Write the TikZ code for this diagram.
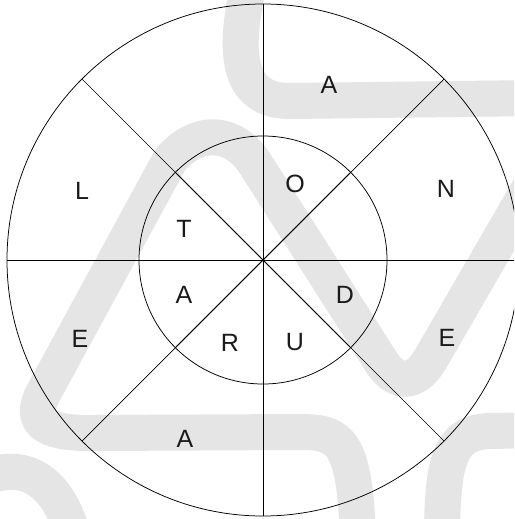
\documentclass[tikz,border=0pt]{standalone}
\usepackage{fontspec}
\setmainfont{Liberation Sans}
\usetikzlibrary{calc}
\definecolor{wm}{RGB}{229,229,229}
\definecolor{ink}{RGB}{26,26,26}
\begin{document}
\begin{tikzpicture}[x=1pt,y=-1pt,
  ribbon/.style={draw=wm,line width=36pt,line cap=round,line join=round},
  ring/.style={draw=black,line width=0.75pt},
  spoke/.style={draw=black,line width=0.7pt},
  innerspoke/.style={draw=black,line width=1.0pt},
  letter/.style={font=\fontsize{25}{25}\selectfont,text=ink,inner sep=0pt}]
\useasboundingbox (0,0) rectangle (514,519);
\clip (0,0) rectangle (514,519);
\fill[white] (0,0) rectangle (514,519);
% watermark ribbons
\draw[ribbon] (252,-30) .. controls (232,50) and (235,101) .. (290,101) -- (540,98);
\draw[ribbon] (358,540) .. controls (355,440) and (340,432) .. (300,432) -- (95,433)
  .. controls (40,434) and (28,420) .. (45,390) -- (170,160)
  .. controls (198,128) and (234,130) .. (256,165) -- (380,360)
  .. controls (395,385) and (415,385) .. (430,360) -- (540,170);
\draw[ribbon] (-20,480) .. controls (30,455) and (62,490) .. (74,540);
\draw[ribbon] (540,430) -- (490,431) .. controls (450,432) and (442,460) .. (442,540);
% geometry
\coordinate (c) at (263,260);
\draw[ring] (c) circle[radius=256];
\draw[ring] (c) circle[radius=124];
\foreach \a in {0,45,...,315} {
  \coordinate (o\a) at ($(c)+(\a:256)$);
  \coordinate (i\a) at ($(c)+(\a:124)$);
}
\foreach \a in {0,45,...,315} {
  \draw[spoke] (c) -- (o\a);
  \draw[innerspoke] (c) -- (i\a);
}
% letters
\node[letter] (a1) at (329,85) {A};
\node[letter] (n1) at (446,189) {N};
\node[letter] (o1) at (295,184) {O};
\node[letter] (l1) at (82,191) {L};
\node[letter] (t1) at (184,229) {T};
\node[letter] (a2) at (184,295) {A};
\node[letter] (r1) at (230,343) {R};
\node[letter] (e1) at (80,339) {E};
\node[letter] (a3) at (185,439) {A};
\node[letter] (d1) at (345,295) {D};
\node[letter] (u1) at (295,342) {U};
\node[letter] (e2) at (447,338) {E};
\end{tikzpicture}
\end{document}
